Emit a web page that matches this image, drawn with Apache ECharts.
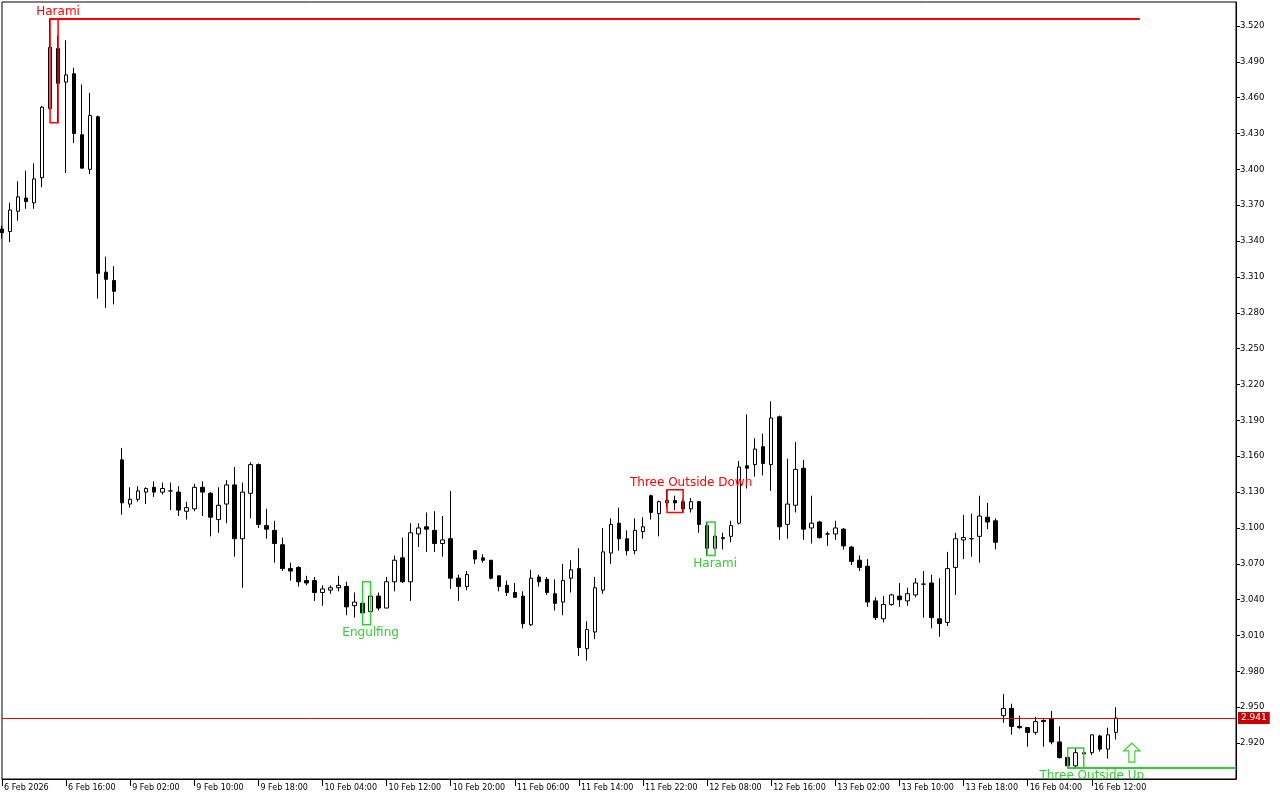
<!DOCTYPE html>
<html><head><meta charset="utf-8">
<script src="https://cdn.jsdelivr.net/npm/echarts@6/dist/echarts.min.js"></script>
<style>html,body{margin:0;padding:0;background:#fff}#c{width:1280px;height:800px}</style>
</head><body><div id="c"></div>
<script>
const xTickLabels = ['6 Feb 2026','6 Feb 16:00','9 Feb 02:00','9 Feb 10:00','9 Feb 18:00','10 Feb 04:00','10 Feb 12:00','10 Feb 20:00','11 Feb 06:00','11 Feb 14:00','11 Feb 22:00','12 Feb 08:00','12 Feb 16:00','13 Feb 02:00','13 Feb 10:00','13 Feb 18:00','16 Feb 04:00','16 Feb 12:00'];

const opens = [3.350,3.348,3.365,3.376,3.372,3.393,3.451,3.501,3.473,3.480,
3.429,3.400,3.444,3.314,3.307,3.157,3.120,3.124,3.130,3.134,
3.130,3.131,3.130,3.114,3.116,3.134,3.129,3.107,3.120,3.136,
3.091,3.129,3.153,3.102,3.098,3.086,3.066,3.067,3.056,3.056,
3.046,3.048,3.050,3.051,3.035,3.037,3.030,3.043,3.033,3.055,
3.075,3.055,3.095,3.101,3.098,3.087,3.091,3.058,3.051,3.081,
3.075,3.073,3.060,3.052,3.046,3.043,3.019,3.059,3.057,3.045,
3.038,3.058,3.066,2.999,3.013,3.048,3.079,3.104,3.091,3.081,
3.097,3.127,3.112,3.121,3.123,3.122,3.116,3.122,3.102,3.083,
3.091,3.093,3.104,3.152,3.153,3.168,3.153,3.193,3.103,3.119,
3.150,3.100,3.105,3.095,3.095,3.099,3.084,3.073,3.068,3.039,
3.024,3.036,3.043,3.039,3.044,3.053,3.054,3.024,3.021,3.067,
3.090,3.091,3.093,3.109,3.106,2.943,2.949,2.934,2.933,2.929,
2.939,2.940,2.921,2.908,2.901,2.911,2.912,2.926,2.915,2.929];

const closes = [3.347,3.366,3.377,3.373,3.392,3.452,3.502,3.472,3.479,3.430,
3.401,3.445,3.313,3.308,3.298,3.121,3.124,3.131,3.133,3.130,
3.133,3.131,3.115,3.117,3.134,3.130,3.109,3.119,3.136,3.091,
3.130,3.153,3.103,3.099,3.087,3.066,3.064,3.055,3.054,3.046,
3.049,3.050,3.052,3.034,3.038,3.029,3.043,3.033,3.055,3.073,
3.055,3.096,3.100,3.099,3.087,3.090,3.058,3.051,3.061,3.074,
3.073,3.058,3.051,3.046,3.042,3.020,3.058,3.055,3.046,3.037,
3.056,3.065,3.000,3.015,3.050,3.080,3.103,3.091,3.081,3.098,
3.101,3.113,3.122,3.123,3.121,3.116,3.122,3.103,3.083,3.093,
3.092,3.102,3.151,3.150,3.166,3.154,3.192,3.101,3.120,3.149,
3.099,3.104,3.092,3.095,3.100,3.085,3.072,3.067,3.038,3.025,
3.036,3.044,3.040,3.045,3.054,3.053,3.025,3.020,3.066,3.091,
3.092,3.091,3.110,3.105,3.088,2.949,2.934,2.933,2.929,2.938,
2.938,2.921,2.908,2.901,2.912,2.912,2.927,2.915,2.927,2.941];

const lows = [3.342,3.339,3.357,3.367,3.367,3.385,3.450,3.439,3.397,3.422,
3.401,3.396,3.292,3.284,3.287,3.111,3.117,3.122,3.120,3.126,
3.128,3.115,3.110,3.107,3.114,3.110,3.093,3.096,3.104,3.076,
3.050,3.108,3.100,3.091,3.071,3.064,3.056,3.051,3.052,3.039,
3.035,3.045,3.047,3.027,3.025,3.019,3.023,3.031,3.033,3.047,
3.054,3.039,3.084,3.080,3.080,3.076,3.049,3.039,3.048,3.070,
3.071,3.057,3.047,3.043,3.042,3.016,3.018,3.051,3.044,3.031,
3.027,3.046,2.993,2.989,3.007,3.045,3.070,3.081,3.077,3.078,
3.091,3.107,3.093,3.117,3.115,3.113,3.113,3.096,3.077,3.082,
3.082,3.088,3.103,3.133,3.143,3.144,3.131,3.090,3.091,3.113,
3.090,3.087,3.091,3.085,3.090,3.082,3.069,3.064,3.034,3.023,
3.021,3.035,3.034,3.035,3.042,3.025,3.016,3.009,3.018,3.044,
3.074,3.076,3.071,3.099,3.082,2.937,2.927,2.932,2.917,2.927,
2.917,2.919,2.907,2.899,2.900,2.908,2.910,2.913,2.907,2.923];

const highs = [3.353,3.372,3.390,3.399,3.405,3.453,3.526,3.512,3.508,3.485,
3.471,3.464,3.445,3.327,3.319,3.167,3.134,3.135,3.134,3.139,
3.138,3.138,3.135,3.122,3.137,3.139,3.130,3.134,3.140,3.151,
3.138,3.155,3.154,3.116,3.106,3.092,3.071,3.068,3.060,3.059,
3.052,3.052,3.060,3.055,3.046,3.040,3.055,3.046,3.059,3.077,
3.092,3.104,3.104,3.113,3.114,3.110,3.131,3.061,3.064,3.081,
3.078,3.073,3.060,3.056,3.054,3.047,3.065,3.061,3.059,3.057,
3.070,3.073,3.083,3.022,3.059,3.100,3.108,3.117,3.098,3.108,
3.109,3.128,3.123,3.132,3.127,3.124,3.125,3.122,3.105,3.094,
3.096,3.106,3.156,3.195,3.175,3.179,3.206,3.194,3.158,3.172,
3.157,3.127,3.106,3.097,3.106,3.100,3.085,3.077,3.074,3.042,
3.043,3.045,3.054,3.050,3.058,3.064,3.061,3.058,3.080,3.096,
3.111,3.112,3.127,3.121,3.108,2.961,2.953,2.943,2.933,2.942,
2.940,2.947,2.934,2.910,2.916,2.915,2.927,2.927,2.933,2.950];

// candlestick patterns
const patternNames = ['Harami','Engulfing','Three Outside Down','Harami','Three Outside Up'];
const patternBull  = [false, true, false, true, true];
const patternFrom  = [6, 45, 83, 88, 133];
const patternTo    = [7, 46, 85, 89, 135];
const patternHigh  = [3.526, 3.055, 3.132, 3.105, 2.916];
const patternLow   = [3.439, 3.019, 3.113, 3.077, 2.899];
const patternLabelBar = [7, 46, 86, 89, 136];

// pattern level lines
const levelPrice = [3.526, 2.899];
const levelFrom  = [6, 133];
const levelTo    = [142, 154];
const levelBull  = [false, true];

// buy signal arrow
const arrowBar = 141;
const arrowPrice = 2.912;

const RED = '#ff0000';
const GREEN = '#32cd32';
const FONT = 'DejaVu Sans';

const nSlots = 155;
const slots = Array.from({length: nSlots}, (_, i) => String(i));
const candles = opens.map((o, i) => [o, closes[i], lows[i], highs[i]]);
const lastClose = closes[closes.length - 1];
const showTick = (i) => i % 8 === 0 && i / 8 < xTickLabels.length;

const chart = echarts.init(document.getElementById('c'));
chart.setOption({
  animation: false,
  backgroundColor: '#fff',
  grid: {left: 2, right: 44, top: 2, bottom: 21, show: true, borderColor: '#000', borderWidth: 1},
  xAxis: {
    type: 'category', data: slots, boundaryGap: false,
    axisLine: {show: true, lineStyle: {color: '#000', width: 1}},
    axisTick: {show: true, interval: showTick, length: 7, lineStyle: {color: '#000'}},
    axisLabel: {interval: showTick, formatter: (v, i) => xTickLabels[i / 8] || '', align: 'left',
      margin: 5, padding: [0, 0, 0, 2], fontFamily: FONT, fontSize: 8, color: '#000'},
    splitLine: {show: false}
  },
  yAxis: {
    type: 'value', position: 'right', min: 2.89, max: 3.54, interval: 0.03,
    axisLine: {show: true, lineStyle: {color: '#000'}},
    axisTick: {show: true, length: 4, lineStyle: {color: '#000'}},
    axisLabel: {showMinLabel: false, showMaxLabel: false, formatter: v => v.toFixed(3), margin: 4,
      fontFamily: FONT, fontSize: 8.5, color: '#000'},
    splitLine: {show: false}
  },
  series: [
    {
      type: 'candlestick', data: candles, barWidth: 4,
      itemStyle: {color: '#fff', color0: '#000', borderColor: '#000', borderColor0: '#000', borderWidth: 1}
    },
    {
      type: 'custom', z: 5, silent: true, clip: true,
      encode: {x: [0, 1], y: [2, 3]},
      data: patternNames.map((n, i) => [patternFrom[i], patternTo[i], patternHigh[i], patternLow[i], i]),
      renderItem: (params, api) => {
        const i = api.value(4);
        const p1 = api.coord([api.value(0), api.value(2)]);
        const p2 = api.coord([api.value(1), api.value(3)]);
        const bull = patternBull[i];
        const col = bull ? GREEN : RED;
        const lp = api.coord([patternLabelBar[i], bull ? api.value(3) : api.value(2)]);
        return {type: 'group', children: [
          {type: 'rect', shape: {x: p1[0], y: p1[1], width: p2[0] - p1[0], height: p2[1] - p1[1]},
            style: {fill: null, stroke: col, lineWidth: 1.5}},
          {type: 'text', x: lp[0], y: bull ? lp[1] + 2 : lp[1] - 1,
            style: {text: patternNames[i], fill: col, font: '12px ' + FONT, align: 'center',
              verticalAlign: bull ? 'top' : 'bottom'}}
        ]};
      },
      markLine: {
        silent: true, symbol: ['none', 'none'], animation: false, label: {show: false},
        data: levelPrice.map((p, i) => [
          {coord: [levelFrom[i], p], lineStyle: {color: levelBull[i] ? GREEN : RED, width: 2, type: 'solid'}},
          {coord: [levelTo[i], p]}
        ])
      },
      markPoint: {
        silent: true, animation: false, label: {show: false},
        data: [{coord: [arrowBar, arrowPrice], symbol: 'path://M8,0 L16,8 L11,8 L11,20 L5,20 L5,8 L0,8 Z',
          symbolSize: [16, 19], itemStyle: {color: '#fff', borderColor: GREEN, borderWidth: 1.2}}]
      }
    },
    {
      type: 'custom', z: 4, silent: true, data: [],
      renderItem: () => null,
      markLine: {
        silent: true, symbol: ['none', 'none'], animation: false,
        lineStyle: {color: '#e00000', width: 1, type: 'solid'},
        label: {show: true, position: 'end', distance: 2, formatter: () => lastClose.toFixed(3),
          backgroundColor: '#c80000', color: '#fff', padding: [2, 3, 1, 3], fontFamily: FONT, fontSize: 9},
        data: [[{coord: [0, lastClose]}, {coord: [nSlots - 1, lastClose]}]]
      }
    }
  ]
});
</script>
</body></html>
